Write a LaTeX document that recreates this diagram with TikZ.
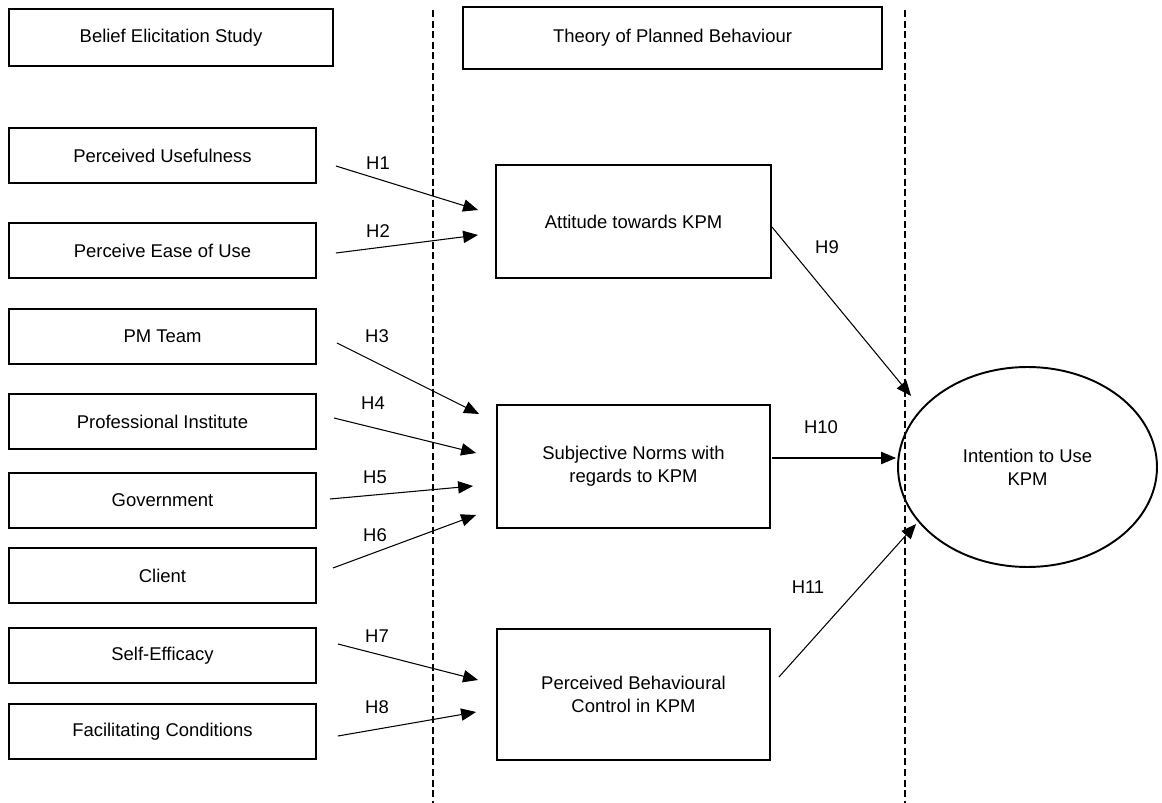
\documentclass[tikz,border=0pt]{standalone}
\usepackage{fontspec}
\setmainfont{Liberation Sans}
\usetikzlibrary{arrows.meta, shapes.geometric}

\begin{document}
\begin{tikzpicture}[x=0.02cm, y=-0.02cm,
    box/.style={draw, line width=1.1pt, inner sep=0pt, align=center, font=\fontsize{10.5}{13}\selectfont},
    lbox/.style={box, minimum width=6.14cm, minimum height=1.1cm},
    hyp/.style={font=\fontsize{10.5}{13}\selectfont},
    arr/.style={-{Triangle[length=8.5pt,width=7pt]}, line width=0.6pt},
    sep/.style={line width=1.1pt, dash pattern=on 4pt off 2pt}]
            \useasboundingbox (0,0) rectangle (1162,803);

            \node[box, minimum width=6.48cm, minimum height=1.14cm] (BES) at (171,37.5) {Belief Elicitation Study};
            \node[box, minimum width=8.38cm, minimum height=1.24cm] (TPB) at (672.5,38) {Theory of Planned Behaviour};

            \node[lbox] (PU) at (162.5,155.5) {Perceived Usefulness};
            \node[lbox] (PEU) at (162.5,250.5) {Perceive Ease of Use};
            \node[lbox] (PMT) at (162.5,336.5) {PM Team};
            \node[lbox] (PI) at (162.5,421.5) {Professional Institute};
            \node[lbox] (GOV) at (162.5,500.5) {Government};
            \node[lbox] (CL) at (162.5,575.5) {Client};
            \node[lbox] (SE) at (162.5,655.5) {Self-Efficacy};
            \node[lbox] (FC) at (162.5,731.5) {Facilitating Conditions};

            \node[box, minimum width=5.5cm, minimum height=2.26cm] (ATT) at (633.5,221.5) {Attitude towards KPM};
            \node[box, minimum width=5.46cm, minimum height=2.46cm] (SN) at (633.5,466.5) {Subjective Norms with\\regards to KPM};
            \node[box, minimum width=5.46cm, minimum height=2.62cm] (PBC) at (633.5,694.5) {Perceived Behavioural\\Control in KPM};
            \node[box, ellipse, minimum width=5.18cm, minimum height=4cm] (ITU) at (1027.5,467) {Intention to Use\\KPM};

            \draw[sep] (433,10)--(433,803);
            \draw[sep] (905,10)--(905,803);

            \draw[arr] ([shift={(19,10.5)}]PU.east)--([shift={(-17,-11.5)}]ATT.west);
            \draw[arr] ([shift={(19,2.5)}]PEU.east)--([shift={(-17,13.5)}]ATT.west);
            \draw[arr] ([shift={(20,6.5)}]PMT.east)--([shift={(-17,-52.5)}]SN.west);
            \draw[arr] ([shift={(17,-3.5)}]PI.east)--([shift={(-20,-13.5)}]SN.west);
            \draw[arr] ([shift={(13,-1.5)}]GOV.east)--([shift={(-23,19.5)}]SN.west);
            \draw[arr] ([shift={(16,-7.5)}]CL.east)--([shift={(-20,48.5)}]SN.west);
            \draw[arr] ([shift={(21,-11.5)}]SE.east)--([shift={(-18,-14.5)}]PBC.west);
            \draw[arr] ([shift={(21,4.5)}]FC.east)--([shift={(-20,17.5)}]PBC.west);
            \draw[arr] ([shift={(0,5.5)}]ATT.east)--([shift={(14,-71)}]ITU.west);
            \draw[arr] ([shift={(1,-8.5)}]SN.east)--([shift={(-1,-9)}]ITU.west);
            \draw[arr] ([shift={(8,-17.5)}]PBC.east)--([shift={(19,57)}]ITU.west);

            \node[hyp] (h1) at (378,163) {H1};
            \node[hyp] (h2) at (378,231) {H2};
            \node[hyp] (h3) at (377,336) {H3};
            \node[hyp] (h4) at (373,403) {H4};
            \node[hyp] (h5) at (375,477) {H5};
            \node[hyp] (h6) at (375,535) {H6};
            \node[hyp] (h7) at (377,636) {H7};
            \node[hyp] (h8) at (377,707) {H8};
            \node[hyp] (h9) at (827,247) {H9};
            \node[hyp] (h10) at (821,427) {H10};
            \node[hyp] (h11) at (808,587) {H11};
\end{tikzpicture}
\end{document}
